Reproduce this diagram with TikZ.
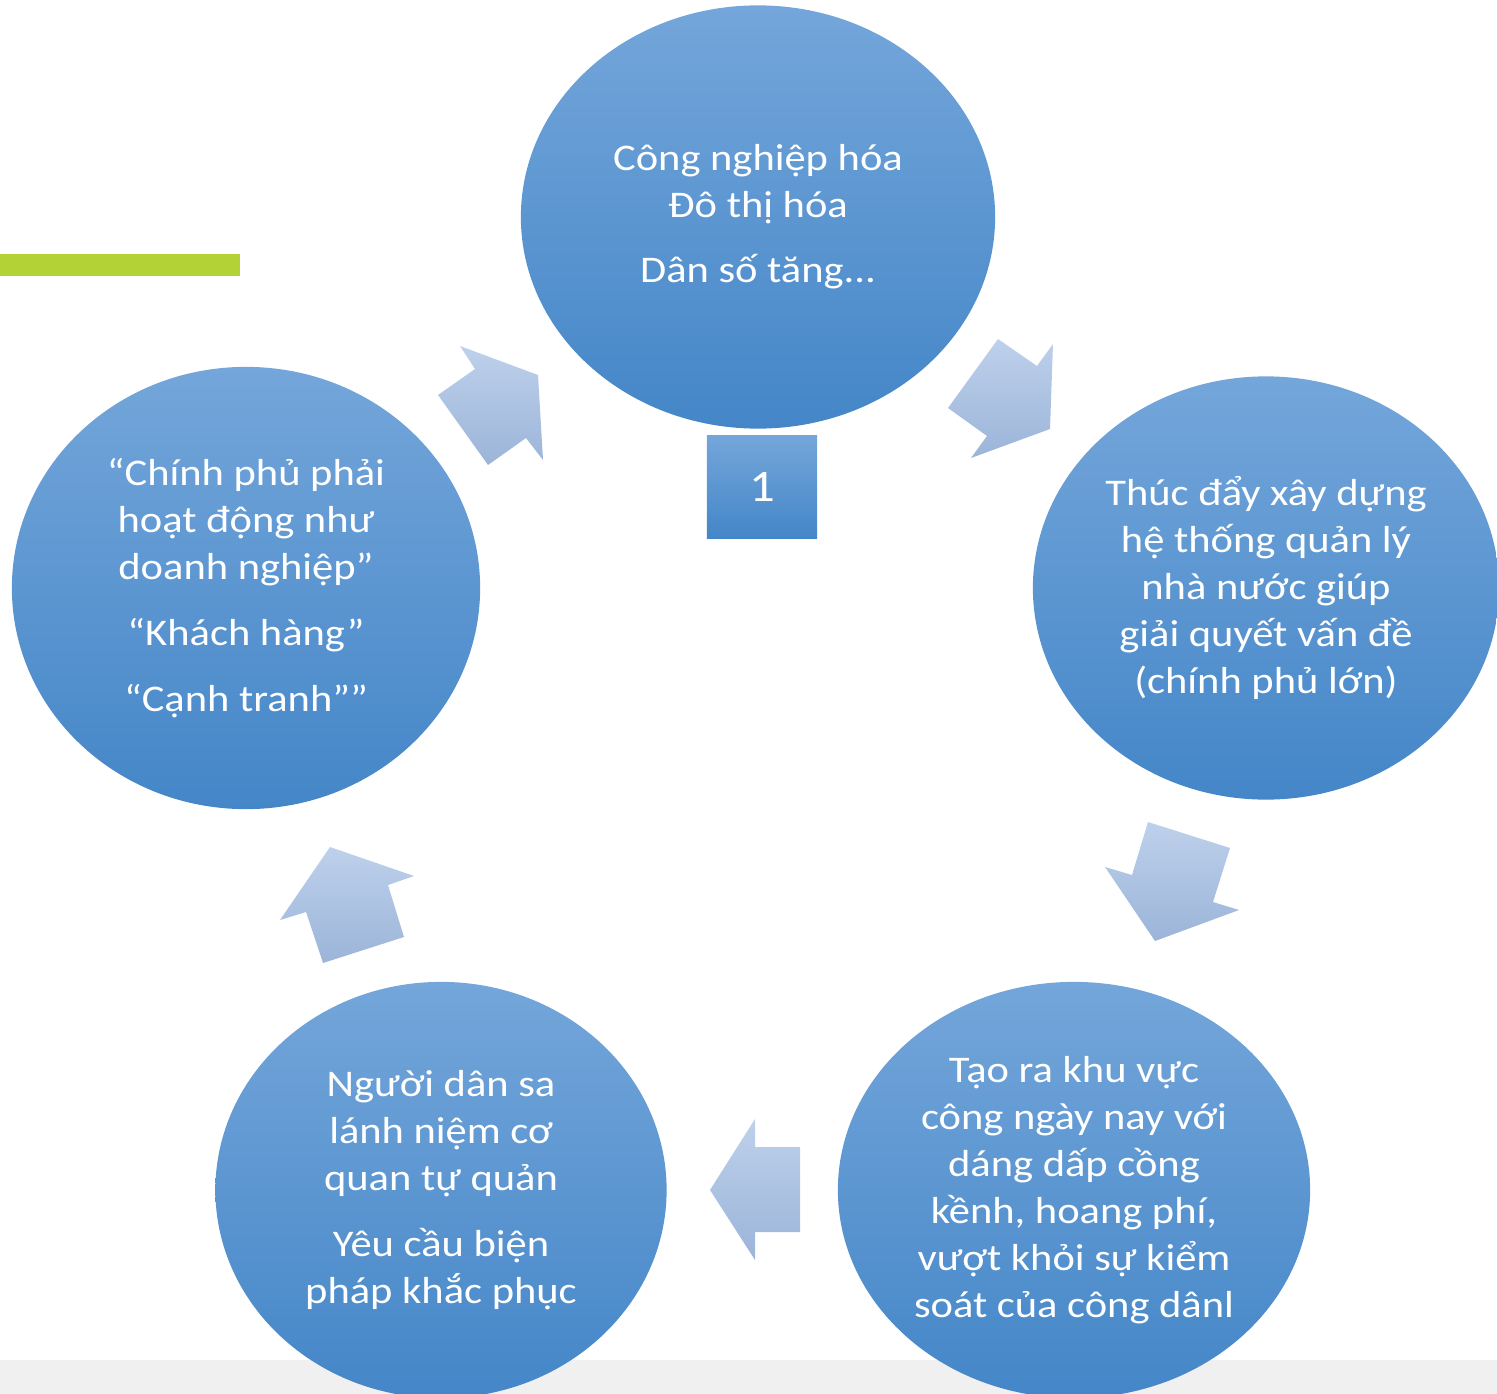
\documentclass[tikz,border=0pt]{standalone}
\usepackage{fontspec}
\setmainfont{Carlito}[FakeStretch=1.13]
\usetikzlibrary{shapes.geometric}
\definecolor{circtop}{RGB}{116,166,218}
\definecolor{circmid}{RGB}{84,152,221}
\definecolor{circbot}{RGB}{68,134,200}
\definecolor{arrtop}{RGB}{190,209,236}
\definecolor{arrbot}{RGB}{155,180,216}
\definecolor{limebar}{RGB}{178,210,53}
\definecolor{bandgray}{RGB}{240,240,240}

\begin{document}
\begin{tikzpicture}[x=0.01cm,y=-0.01cm,
  bubble/.style={ellipse,inner sep=0pt,text=white,align=center,
    top color=circtop,middle color=circmid,bottom color=circbot,
    font=\fontsize{10.7}{13.4}\selectfont},
  blockarrow/.style={top color=arrtop,bottom color=arrbot,draw=none}]
  \useasboundingbox (0,0) rectangle (1497,1394);
  \fill[bandgray] (0,1360) rectangle (1497,1394);
  \fill[limebar] (0,254) rectangle (240,276);
  % the five stages
  \node[bubble,minimum width=4.74cm,minimum height=4.23cm] (stage1) at (758,217)
    {Công nghiệp hóa\\Đô thị hóa\\[0.18cm]Dân số tăng...};
  \node[bubble,minimum width=4.66cm,minimum height=4.23cm] (stage2) at (1266,588)
    {Thúc đẩy xây dựng\\hệ thống quản lý\\nhà nước giúp\\giải quyết vấn đề\\(chính phủ lớn)};
  \node[bubble,minimum width=4.72cm,minimum height=4.16cm] (stage3) at (1074,1190)
    {Tạo ra khu vực\\công ngày nay với\\dáng dấp cồng\\kềnh, hoang phí,\\vượt khỏi sự kiểm\\soát của công dânl};
  \node[bubble,minimum width=4.51cm,minimum height=4.16cm] (stage4) at (441,1190)
    {Người dân sa\\lánh niệm cơ\\quan tự quản\\[0.18cm]Yêu cầu biện\\pháp khắc phục};
  \node[bubble,minimum width=4.68cm,minimum height=4.42cm] (stage5) at (246,588)
    {“Chính phủ phải\\hoạt động như\\doanh nghiệp”\\[0.19cm]“Khách hàng”\\[0.18cm]“Cạnh tranh””};
  \node[top color=circtop,middle color=circmid,bottom color=circbot,text=white,
    minimum width=1.10cm,minimum height=1.02cm,inner sep=0pt,
    font=\fontsize{12.8}{14}\selectfont] (num) at (762,487) {1};
  % block arrows between stages
  \path[blockarrow] (998,339) -- (1037,366) -- (1053,344) -- (1050,429)
    -- (971,458) -- (987,436) -- (948,408) -- cycle;
  \path[blockarrow] (1148,822) -- (1230,848) -- (1213,902) -- (1239,910)
    -- (1155,941) -- (1105,867) -- (1132,875) -- cycle;
  \path[blockarrow] (755,1119) -- (755,1147) -- (800,1147) -- (800,1232)
    -- (755,1232) -- (755,1260) -- (710,1190) -- cycle;
  \path[blockarrow] (330,847) -- (414,876) -- (388,885) -- (404,937)
    -- (323,963) -- (306,912) -- (280,920) -- cycle;
  \path[blockarrow] (460,346) -- (538,375) -- (543,460) -- (526,438)
    -- (488,465) -- (438,395) -- (475,369) -- cycle;
\end{tikzpicture}
\end{document}
